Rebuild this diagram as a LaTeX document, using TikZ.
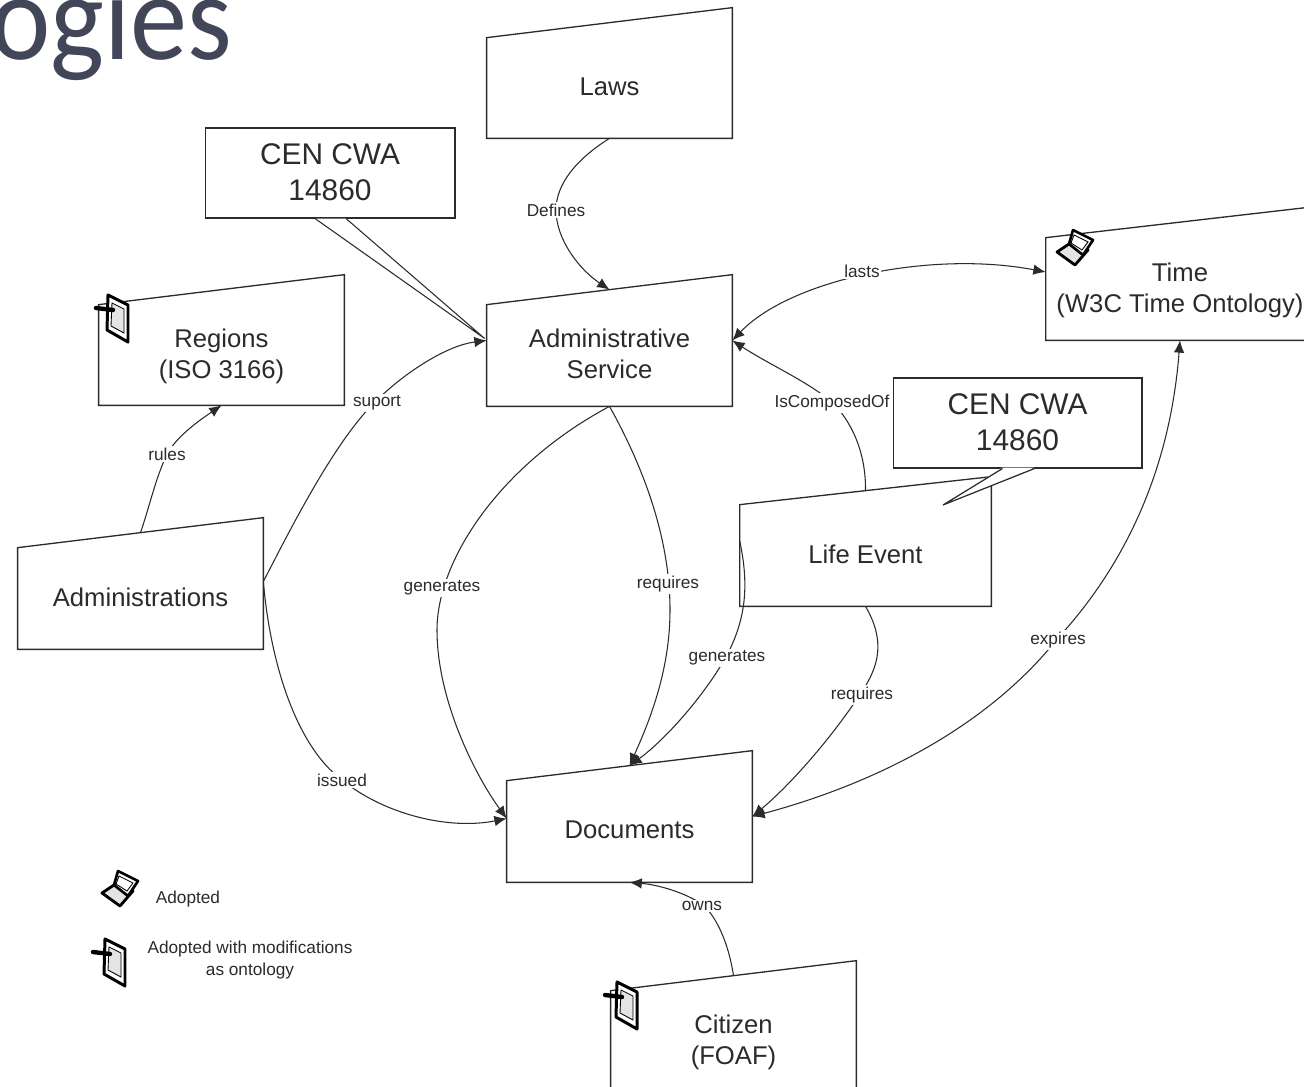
\documentclass[tikz,border=0pt]{standalone}
\usepackage{fontspec}
\setmainfont{Liberation Sans}
\newfontfamily\titlefont[FakeStretch=0.93]{Carlito}
\usetikzlibrary{arrows.meta}
\definecolor{ink}{HTML}{2B2B2B}
\definecolor{titleink}{HTML}{414659}
\definecolor{screen}{HTML}{E4E4E4}
\tikzset{
  x=0.02cm,y=-0.02cm,
  boxframe/.style={rectangle,inner sep=0pt},
  boxtext/.style={inner sep=0pt,align=center,text=ink,font=\fontsize{14.6}{17.6}\selectfont},
  boxline/.style={draw=ink,line width=0.75pt,line join=miter},
  callout/.style={rectangle,draw=ink,line width=0.6pt,fill=white,inner sep=0pt,align=center,text=ink,font=\fontsize{17}{20.4}\selectfont},
  conn/.style={draw=ink,line width=0.6pt,-{Latex[length=7pt,width=6pt]}},
  connboth/.style={conn,{Latex[length=7pt,width=6pt]}-{Latex[length=7pt,width=6pt]}},
  lab/.style={fill=white,inner sep=1pt,text=ink,font=\fontsize{9.8}{11.9}\selectfont},
  legendtext/.style={inner sep=0pt,align=center,text=ink,font=\fontsize{9.8}{12.4}\selectfont},
  laptopicon/.pic={
    \draw[line width=1.6pt,line join=round,draw=black,fill=screen] (-18,5) -- (-6,-3) -- (13,3) -- (0,18) -- cycle;
    \draw[line width=1.5pt,line join=round,draw=black,fill=white] (-2,-17) -- (18,-7) -- (8,8) -- (-6,-3) -- cycle;
    \draw[line width=0.5pt,draw=black] (-1,-12) -- (13,-5) -- (7,3) -- (-4,-4) -- cycle;
  },
  tableticon/.pic={
    \draw[line width=1.7pt,line join=round,draw=black,fill=white] (-10,-23) -- (10,-13) -- (10,24) -- (-11,12) -- cycle;
    \draw[line width=0.5pt,draw=black,fill=screen] (-6,-15) -- (6,-9) -- (6,15) -- (-7,8) -- cycle;
    \draw[line width=2.5pt,draw=black,line cap=round] (-22,-10) -- (-5,-8);
  }
}
% name, x1, y1 (left top), x2, y2 (bottom), rise of the sloped edge, text, text shift
\newcommand{\inputbox}[8]{%
  \node[boxframe,minimum width={(#4-#2)*0.02cm},minimum height={(#5-#3)*0.02cm}] (#1) at ({(#2+#4)/2},{(#3+#5)/2}) {};
  \draw[boxline] (#1.south west) -- (#1.south east) -- ([shift={(0,-#6)}]#1.north east) -- (#1.north west) -- cycle;
  \node[boxtext] (#1-text) at ([shift={(0,#8)}]#1.center) {#7};
}
\begin{document}
\begin{tikzpicture}
\useasboundingbox (0,0) rectangle (1304,1087);
\fill[white] (0,0) rectangle (1304,1087);
\begin{scope}
\clip (0,0) rectangle (1304,1087);
\node[anchor=base west,inner sep=0pt,text=titleink,font=\titlefont\fontsize{70}{72}\selectfont] (title) at (-10,60) {ogies};

\inputbox{laws}{487}{38}{732}{138}{30}{Laws}{-1}
\inputbox{svc}{487}{305}{732}{406}{30}{Administrative\\Service}{-2}
\inputbox{regions}{99}{305}{344}{405}{30}{Regions\\(ISO 3166)}{1}
\inputbox{admins}{18}{548}{263}{649}{30}{Administrations}{-1}
\inputbox{life}{740}{505}{991}{606}{28}{Life Event}{-1}
\inputbox{docs}{507}{781}{752}{882}{30}{Documents}{-2}
\inputbox{citizen}{611}{991}{856}{1092}{30}{Citizen\\(FOAF)}{1}
\inputbox{time}{1046}{238}{1314}{340}{31}{Time\\(W3C Time Ontology)}{1}

% connectors
\draw[conn] (laws.south) .. controls (575,160) and (556,185) .. (556,210) .. controls (556,240) and (580,270) .. ([shift={(0,-15)}]svc.north);
\draw[connboth] ([shift={(0,-15)}]svc.east) .. controls (790,280) and (930,250) .. ([shift={(0,-17)}]time.west);
\draw[conn] ([shift={(0,-14)}]life.north) .. controls (866,450) and (850,420) .. (832,402) .. controls (805,380) and (770,365) .. ([shift={(0,-15)}]svc.east);
\draw[conn] ([shift={(0,-17)}]admins.east) .. controls (290,530) and (335,440) .. (377,400) .. controls (410,368) and (450,345) .. ([shift={(0,-15)}]svc.west);
\draw[conn] ([shift={(0,-15)}]admins.north) .. controls (150,505) and (155,480) .. (167,454) .. controls (178,435) and (200,420) .. (regions.south);
\draw[conn] (svc.south) .. controls (500,465) and (437,560) .. (437,630) .. controls (437,700) and (475,775) .. ([shift={(0,-13)}]docs.west);
\draw[conn] (svc.south) .. controls (645,470) and (670,540) .. (670,610) .. controls (670,670) and (650,720) .. ([shift={(0,-15)}]docs.north);
\draw[conn] ([shift={(0,-15)}]life.west) .. controls (748,580) and (748,615) .. (727,655) .. controls (705,695) and (665,740) .. ([shift={(0,-15)}]docs.north);
\draw[conn] (life.south) .. controls (885,640) and (880,665) .. (861,693) .. controls (830,740) and (790,785) .. ([shift={(0,-15)}]docs.east);
\draw[connboth] (time.south) .. controls (1170,470) and (1125,565) .. (1058,638) .. controls (985,730) and (870,785) .. ([shift={(0,-15)}]docs.east);
\draw[conn] ([shift={(0,-17)}]admins.east) .. controls (270,660) and (295,745) .. (342,780) .. controls (385,815) and (450,830) .. ([shift={(0,-13)}]docs.west);
\draw[conn] ([shift={(0,-15)}]citizen.north) .. controls (728,940) and (715,915) .. (702,904) .. controls (685,893) and (660,885) .. (docs.south);

% connector labels
\node[lab] (ldefines) at (556,210) {Defines};
\node[lab] (llasts) at (862,271) {lasts};
\node[lab] (lcomposed) at (832,403) {IsComposedOf};
\node[lab] (lsuport) at (377,403) {suport};
\node[lab] (lrules) at (167,454) {rules};
\node[lab] (lgen) at (442,588) {generates};
\node[lab] (lreq) at (668,584) {requires};
\node[lab] (lgenb) at (727,658) {generates};
\node[lab] (lreqb) at (862,695) {requires};
\node[lab] (lexp) at (1058,640) {expires};
\node[lab] (lissued) at (342,780) {issued};
\node[lab] (lowns) at (702,906) {owns};

% callouts
\node[callout,minimum width=5cm,minimum height=1.8cm] (cena) at (330,173) {\raisebox{1pt}{CEN CWA}\\\raisebox{1pt}{14860}};
\draw[draw=ink,line width=0.6pt,fill=white] ([shift={(-15,0)}]cena.south) -- ([shift={(-2,-17)}]svc.west) -- ([shift={(16,0)}]cena.south);
\node[callout,minimum width=4.98cm,minimum height=1.8cm] (cenb) at (1017.5,423) {\raisebox{1pt}{CEN CWA}\\\raisebox{1pt}{14860}};
\fill[white] ([shift={(-15,-1)}]cenb.south) -- (943,505) -- ([shift={(17,-1)}]cenb.south) -- cycle;
\draw[draw=ink,line width=0.7pt] ([shift={(-15,0)}]cenb.south) -- (943,505) -- ([shift={(17,0)}]cenb.south);

% icons
\pic at (1075,247) {laptopicon};
\pic at (118,318) {tableticon};
\pic at (627,1005) {tableticon};
\pic at (120,888) {laptopicon};
\pic at (115,962) {tableticon};

% legend
\node[legendtext] (ladopted) at (188,899) {Adopted};
\node[legendtext] (lmod) at (250,960) {Adopted with modifications\\as ontology};
\end{scope}
\end{tikzpicture}
\end{document}
